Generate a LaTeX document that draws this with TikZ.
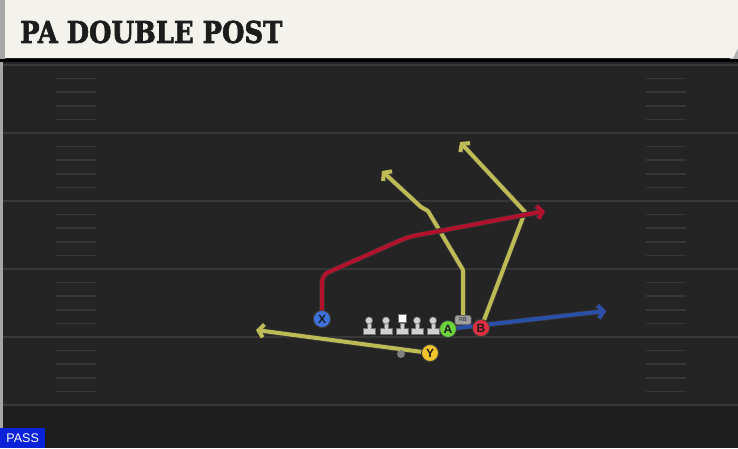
\documentclass[tikz,border=0pt]{standalone}
\usepackage{fontspec}
\setmainfont{DejaVu Serif}
\setsansfont{Liberation Sans}
\newfontfamily\titlefont[FakeBold=2.2]{DejaVu Serif Bold}
\usepackage{graphicx}
\usepackage{xcolor}
\definecolor{field}{HTML}{242424}
\definecolor{fielddark}{HTML}{1E1E1E}
\definecolor{yardline}{HTML}{383838}
\definecolor{hashmark}{HTML}{363636}
\definecolor{paper}{HTML}{F4F2EC}
\definecolor{inkdark}{HTML}{1C1C1C}
\definecolor{routered}{HTML}{B3122F}
\definecolor{routeyellow}{HTML}{BDBB56}
\definecolor{routeblue}{HTML}{2A4FA6}
\definecolor{xblue}{HTML}{3D72DE}
\definecolor{yyellow}{HTML}{F0C52C}
\definecolor{agreen}{HTML}{6CD33C}
\definecolor{bred}{HTML}{E0303F}
\definecolor{passblue}{HTML}{0A22D8}
\usepackage{tikz}
\usetikzlibrary{arrows.meta}
\tikzset{>={Straight Barb[length=5pt,width=13pt]}}
\pgfdeclarelayer{fieldlayer}
\pgfdeclarelayer{routelayer}
\pgfsetlayers{fieldlayer,routelayer,main}

\tikzset{
  player/.style={circle, draw=black!75, line width=0.9pt, minimum size=17pt, inner sep=0pt,
    font=\sffamily\bfseries\fontsize{12}{12}\selectfont, text=inkdark},
  route/.style={line width=4pt, line cap=round, line join=round,
    preaction={draw=black!80, line width=5.6pt}},
  lineman/.style={fill=black!18, draw=black!55, line width=0.6pt}
}

\begin{document}
\begin{tikzpicture}[x=1pt,y=-1pt]
\useasboundingbox (0,0) rectangle (738,448);

\node[player, fill=xblue] (X) at (322,319) {X};
\node[player, fill=yyellow] (Y) at (430,353) {Y};
\node[player, fill=agreen] (A) at (448,329) {A};
\node[player, fill=bred] (B) at (481,328) {B};
\node[fill=black!38, draw=black!60, line width=0.6pt, rounded corners=2pt, minimum width=16pt,
  minimum height=9pt, inner sep=0pt, font=\sffamily\fontsize{5.5}{5.5}\selectfont, text=inkdark]
  (RB) at (463,320) {RB};
\node[circle, fill=black!50, inner sep=0pt, minimum size=8pt] (QB) at (401,354) {};

\foreach \x in {369,386,402,417,433}{
  \draw[lineman] (\x-6,334) -- (\x+6,334) -- (\x+6,328.5) -- (\x+2,328.5) -- (\x+2,323) -- (\x-2,323) -- (\x-2,328.5) -- (\x-6,328.5) -- cycle;
}
\foreach \x in {369,386,417,433}{
  \draw[lineman] (\x,320.5) circle [radius=3.6];
}
\draw[fill=white, draw=black!55, line width=0.6pt] (398,314) rectangle (406,322);

\coordinate (xstem) at (322,275);
\coordinate (xbend) at (408,237);
\coordinate (xend) at (545,211);
\coordinate (yend) at (256,330);
\coordinate (rbstem) at (463,270);
\coordinate (rbbend) at (428,211);
\coordinate (rbkink) at (421,207);
\coordinate (rbend) at (382,171);
\coordinate (bbreak) at (525,212);
\coordinate (bend) at (460,142);
\coordinate (aend) at (606,311);

\begin{pgfonlayer}{routelayer}
\draw[route, routeyellow, ->] (Y.center) -- (yend);
\draw[route, routeyellow, ->] (RB.center) -- (rbstem) -- (rbbend) -- (rbkink) -- (rbend);
\draw[route, routeyellow, ->] (B.center) -- (bbreak) -- (bend);
\draw[route, routeblue, ->] (A.center) -- (aend);
\draw[route, routered, ->, rounded corners=7pt] (X.center) -- (xstem) -- (xbend) -- (xend);
\end{pgfonlayer}

\begin{pgfonlayer}{fieldlayer}
\fill[field] (0,59) rectangle (738,405);
\fill[fielddark] (0,405) rectangle (738,448);
\fill[black!35] (0,59) rectangle (3,448);
\foreach \y in {65,133,201,269,337,405}{
  \draw[yardline, line width=2pt] (3,\y) -- (738,\y);
}
\foreach \y in {65,133,201,269,337}{
  \foreach \k in {1,2,3,4}{
    \draw[hashmark, line width=1.5pt] (56,\y+13.6*\k) -- (96,\y+13.6*\k);
    \draw[hashmark, line width=1.5pt] (646,\y+13.6*\k) -- (686,\y+13.6*\k);
  }
}
\fill[black] (0,57) rectangle (738,62);
\fill[black!35] (0,0) rectangle (5,59);
\fill[black!30] (730,0) -- (738,0) -- (738,59) -- (730,59) -- cycle;
\fill[paper] (5,0) -- (738,0) -- (738,48) -- (733,58) -- (5,58) -- cycle;
\end{pgfonlayer}

\node[anchor=west, inner sep=0pt, text=inkdark, font=\titlefont\fontsize{30}{30}\selectfont]
  (title) at (20,32) {\scalebox{0.86}[1]{PA DOUBLE POST}};
\node[anchor=south west, fill=passblue, text=white, inner sep=0pt, minimum width=45pt,
  minimum height=20pt, font=\sffamily\fontsize{12.5}{12.5}\selectfont] (pass) at (0,448) {PASS};
\end{tikzpicture}
\end{document}
